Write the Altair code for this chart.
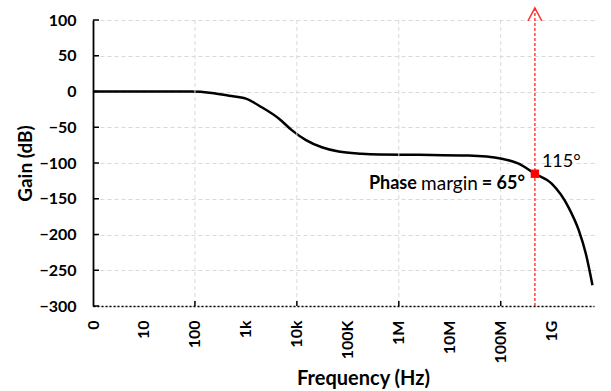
import altair as alt
import pandas as pd

# Magnitude response (frequency in Hz, gain in dB)
freq_hz = [1, 10, 80, 214, 468, 1000, 2040, 4470, 7940, 15100, 30900, 66100,
           186000, 407000, 2.45e6, 2.34e7, 1.05e8, 2.24e8, 4.68e8, 1e9,
           2.14e9, 3.39e9, 4.68e9, 6.31e9]
gain_db = [0, 0, 0, -2, -6, -10, -22, -38, -54, -68, -78, -84,
           -87, -88, -88.5, -89.5, -94, -101, -115, -129,
           -162, -194, -227, -271]

# Axis ticks and labels
decade_ticks = [1, 10, 100, 1e3, 1e4, 1e5, 1e6, 1e7, 1e8, 1e9]
decade_labels = ["0", "10", "100", "1k", "10k", "100K", "1M", "10M", "100M", "1G"]
grid_freqs = [100, 1e4, 1e6, 1e8]
gain_ticks = [100, 50, 0, -50, -100, -150, -200, -250, -300]

# Phase-margin marker
pm_freq = 4.68e8
pm_gain = -115
arrow_bottom = -300
arrow_top = 117

FONT = "Lato"
W, H = 501, 286

curve = pd.DataFrame({"freq": freq_hz, "gain": gain_db})
grid_df = pd.DataFrame({"freq": grid_freqs})
ytick_df = pd.DataFrame({"gain": gain_ticks})
pm_df = pd.DataFrame({"freq": [pm_freq], "gain": [pm_gain],
                      "g0": [arrow_bottom], "g1": [arrow_top]})

label_expr = " : ".join(
    f"datum.value == {v:g} ? '{lab}'" for v, lab in zip(decade_ticks, decade_labels)
) + " : ''"

x_scale = alt.Scale(type="log", domain=[1, 10 ** 9.83], nice=False)
y_scale = alt.Scale(domain=[-300, 100], nice=False)

x_axis = alt.Axis(
    values=decade_ticks, labelExpr=label_expr, grid=False, ticks=False,
    domainColor="black", domainWidth=1.5, domainDash=[2, 2],
    labelAngle=-90, labelAlign="right", labelBaseline="middle",
    labelPadding=14, labelFont=FONT, labelFontWeight="bold", labelFontSize=16,
    labelColor="black", labelOverlap=False,
    title="Frequency (Hz)", titleFont=FONT, titleFontWeight="bold",
    titleFontSize=20, titleColor="black", titleX=270, titleY=72,
    titleBaseline="middle", titleAlign="center",
)
y_axis = alt.Axis(
    values=gain_ticks, grid=True, gridColor="#d9d9d9", gridDash=[4, 3],
    gridWidth=1, ticks=False, domainColor="black", domainWidth=1.8,
    labelPadding=17, labelFont=FONT, labelFontWeight="bold", labelFontSize=16,
    labelColor="black",
    title="Gain (dB)", titleFont=FONT, titleFontWeight="bold",
    titleFontSize=19, titleColor="black", titleX=-68, titleY=H / 2,
    titleBaseline="middle", titleAlign="center", titleAngle=-90,
)

# every layer carries the same axis definition so they merge into one
X = alt.X("freq:Q", scale=x_scale, axis=x_axis)
Y = alt.Y("gain:Q", scale=y_scale, axis=y_axis)

line = alt.Chart(curve).mark_line(color="black", strokeWidth=2.5, interpolate="monotone").encode(
    x=X, y=Y
)

# vertical gridlines every two decades
vgrid = alt.Chart(grid_df).mark_rule(color="#d9d9d9", strokeDash=[4, 3], strokeWidth=1).encode(
    x=X
)

# inside tick marks on both axes
yticks = alt.Chart(ytick_df).mark_rule(color="black", strokeWidth=1.5).encode(
    y=Y, x=alt.value(0), x2=alt.value(6)
)
xticks = alt.Chart(grid_df).mark_rule(color="black", strokeWidth=1.5).encode(
    x=X, y=alt.value(H), y2=alt.value(H - 5)
)

pm_rule = alt.Chart(pm_df).mark_rule(
    color="#ff2020", strokeWidth=1.5, strokeDash=[3, 2], opacity=0.85
).encode(
    x=X, y=alt.Y("g0:Q", scale=y_scale, axis=y_axis), y2="g1:Q"
)

arrow_head = alt.Chart(pm_df).mark_point(
    shape="M -1 1.9 L 0 0 L 1 1.9", filled=False, color="#ff2020",
    strokeWidth=1.5, size=190, opacity=0.9
).encode(
    x=X, y=alt.Y("g1:Q", scale=y_scale, axis=y_axis)
)

pm_point = alt.Chart(pm_df).mark_point(
    shape="square", filled=True, color="#ff0000", size=70, opacity=1
).encode(x=X, y=Y)

txt_common = dict(font=FONT, color="black", baseline="middle")
lbl_115 = alt.Chart(pm_df).mark_text(
    text="115°", align="left", dx=7, dy=-12, fontSize=18, fontWeight="normal", **txt_common
).encode(x=X, y=Y)
lbl_phase = alt.Chart(pm_df).mark_text(
    text="Phase", align="right", dx=-118, dy=10, fontSize=18, fontWeight="bold", **txt_common
).encode(x=X, y=Y)
lbl_margin = alt.Chart(pm_df).mark_text(
    text="margin", align="right", dx=-57, dy=10, fontSize=19, fontWeight="normal", **txt_common
).encode(x=X, y=Y)
lbl_65 = alt.Chart(pm_df).mark_text(
    text="= 65°", align="right", dx=-10, dy=10, fontSize=18, fontWeight="bold", **txt_common
).encode(x=X, y=Y)

chart = alt.layer(
    line, vgrid, yticks, xticks, pm_rule, arrow_head, pm_point,
    lbl_115, lbl_phase, lbl_margin, lbl_65
).properties(
    width=W, height=H,
    autosize=alt.AutoSizeParams(type="none"),
    padding={"left": 93, "top": 20, "right": 17, "bottom": 85},
    background="white",
).configure_view(strokeWidth=0)

chart.save("out.html", embed_options={"renderer": "svg", "actions": False})
